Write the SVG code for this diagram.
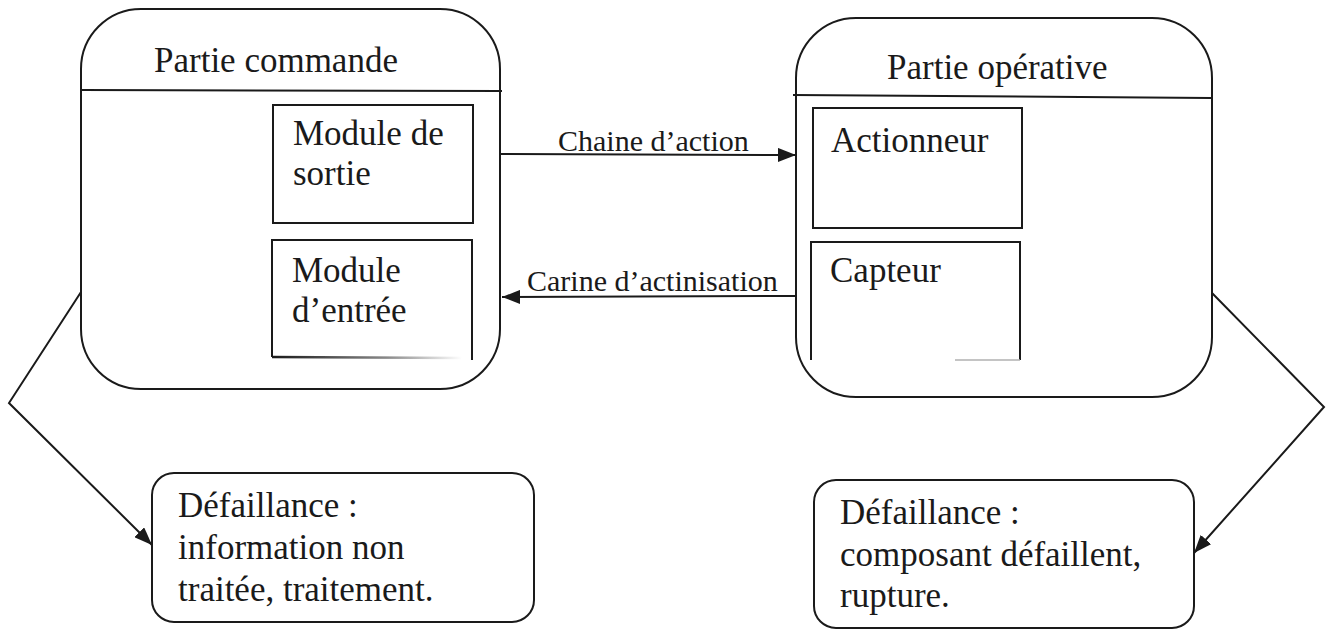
<svg xmlns="http://www.w3.org/2000/svg" width="1326" height="631" viewBox="0 0 1326 631">
  <style>
    .frame { fill: #ffffff; stroke: #1a1a1a; stroke-width: 2; }
    .line { fill: none; stroke: #1a1a1a; stroke-width: 2; }
    .txt { font-family: "Liberation Serif", "Times New Roman", serif; font-size: 35px; fill: #1a1a1a; }
    .lbl { font-family: "Liberation Serif", "Times New Roman", serif; font-size: 30px; fill: #1a1a1a; }
  </style>
  <defs>
    <marker id="arrow" viewBox="0 0 18 14" refX="18" refY="7" markerWidth="18" markerHeight="14" markerUnits="userSpaceOnUse" orient="auto">
      <path d="M0,0 L18,7 L0,14 Z" fill="#1a1a1a"/>
    </marker>
    <linearGradient id="fade" x1="0" y1="0" x2="1" y2="0">
      <stop offset="0" stop-color="#1a1a1a"/>
      <stop offset="0.6" stop-color="#888888"/>
      <stop offset="1" stop-color="#ffffff"/>
    </linearGradient>
  </defs>
  <rect width="1326" height="631" fill="#ffffff"/>

  <!-- control unit -->
  <g id="partie-commande">
    <rect class="frame" x="81" y="9" width="419" height="380" rx="60" ry="60"/>
    <line class="line" x1="82" y1="90" x2="502" y2="91"/>
    <text class="txt" x="154" y="72">Partie commande</text>
  </g>
  <g id="module-sortie">
    <rect class="frame" x="273" y="105" width="200" height="118"/>
    <text class="txt" x="293" y="145">Module de</text>
    <text class="txt" x="293" y="185">sortie</text>
  </g>
  <g id="module-entree">
    <path class="line" d="M272,357 V240 H472 V360"/>
    <line x1="272" y1="357" x2="462" y2="358" stroke="url(#fade)" stroke-width="2.5"/>
    <text class="txt" x="292" y="282">Module</text>
    <text class="txt" x="292" y="322">d’entrée</text>
  </g>

  <!-- operative unit -->
  <g id="partie-operative">
    <rect class="frame" x="796" y="18" width="416" height="379" rx="60" ry="60"/>
    <line class="line" x1="793" y1="95" x2="1211" y2="98"/>
    <text class="txt" x="887" y="79">Partie opérative</text>
  </g>
  <g id="actionneur">
    <rect class="frame" x="813" y="108" width="209" height="120"/>
    <text class="txt" x="831" y="152">Actionneur</text>
  </g>
  <g id="capteur">
    <path class="line" d="M811,360 V242 H1020 V360"/>
    <line x1="955" y1="360" x2="1020" y2="360" stroke="#b0b0b0" stroke-width="1.5"/>
    <text class="txt" x="830" y="282">Capteur</text>
  </g>

  <!-- failure notes -->
  <g id="defaillance-commande">
    <rect class="frame" x="152" y="473" width="382" height="149" rx="22" ry="22"/>
    <text class="txt" x="178" y="517">Défaillance :</text>
    <text class="txt" x="178" y="559">information non</text>
    <text class="txt" x="178" y="601">traitée, traitement.</text>
  </g>
  <g id="defaillance-operative">
    <rect class="frame" x="814" y="480" width="380" height="148" rx="22" ry="22"/>
    <text class="txt" x="840" y="524">Défaillance :</text>
    <text class="txt" x="840" y="566">composant défaillent,</text>
    <text class="txt" x="840" y="607">rupture.</text>
  </g>

  <!-- links -->
  <g id="connectors">
    <line class="line" x1="500" y1="154" x2="796" y2="155" marker-end="url(#arrow)"/>
    <text class="lbl" x="558" y="151">Chaine d’action</text>
    <line class="line" x1="796" y1="296" x2="502" y2="297" marker-end="url(#arrow)"/>
    <text class="lbl" x="527" y="291">Carine d’actinisation</text>
    <polyline class="line" points="81,292 9,403 152,545" marker-end="url(#arrow)"/>
    <polyline class="line" points="1212,293 1324,407 1194,553" marker-end="url(#arrow)"/>
  </g>
</svg>
